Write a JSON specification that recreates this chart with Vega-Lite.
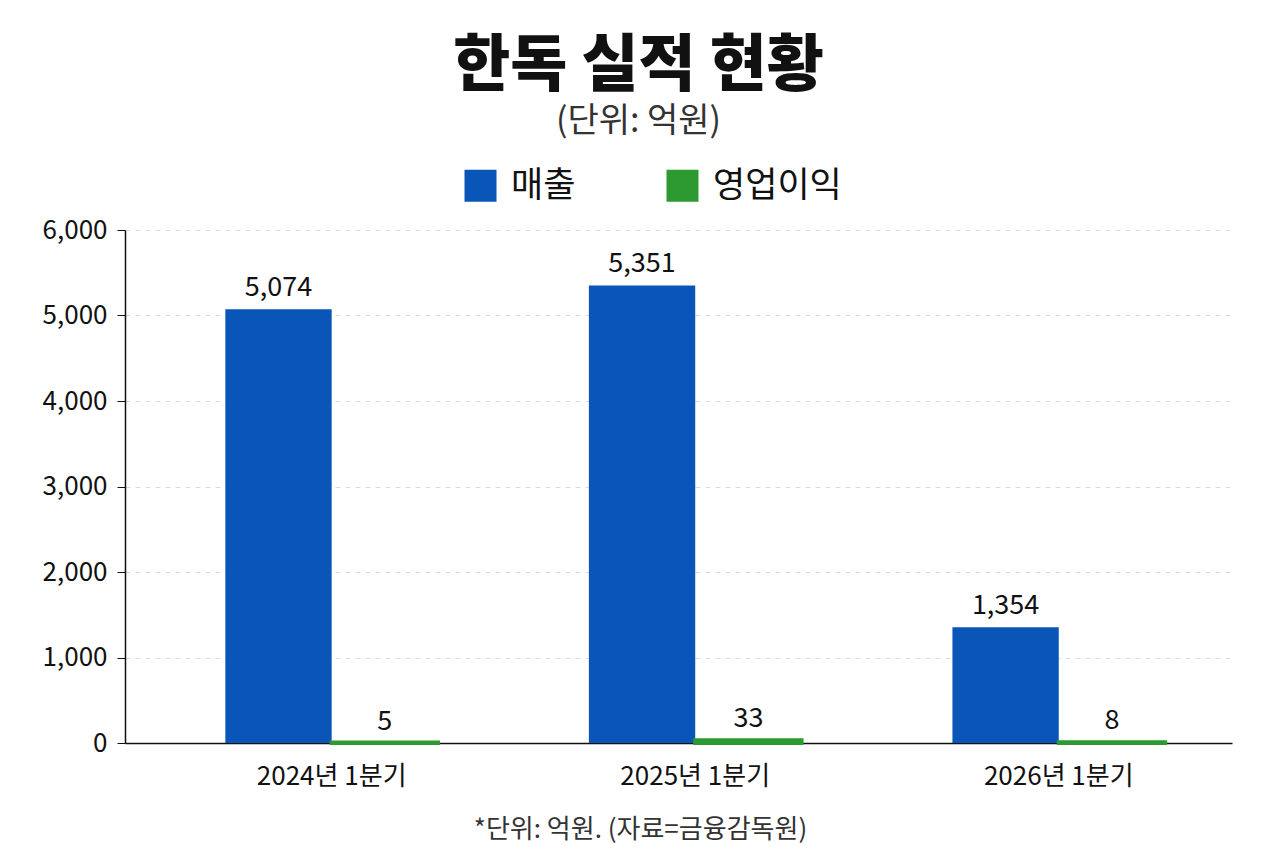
{
  "$schema": "https://vega.github.io/schema/vega-lite/v6.json",
  "width": 1107,
  "height": 513,
  "autosize": {"type": "none"},
  "padding": {"left": 125, "top": 230, "right": 48, "bottom": 110},
  "background": "white",
  "title": {
    "text": "한독 실적 현황",
    "subtitle": "(단위: 억원)",
    "anchor": "middle",
    "frame": "group",
    "dx": -40,
    "offset": 28,
    "font": "Noto Sans CJK KR",
    "fontSize": 62,
    "fontWeight": 900,
    "color": "#111111",
    "subtitleFont": "Noto Sans CJK KR",
    "subtitleFontSize": 34,
    "subtitleColor": "#333333",
    "subtitlePadding": 6
  },
  "data": {
    "values": [
      {"quarter": "2024년 1분기", "series": "매출", "value": 5074},
      {"quarter": "2024년 1분기", "series": "영업이익", "value": 5},
      {"quarter": "2025년 1분기", "series": "매출", "value": 5351},
      {"quarter": "2025년 1분기", "series": "영업이익", "value": 33},
      {"quarter": "2026년 1분기", "series": "매출", "value": 1354},
      {"quarter": "2026년 1분기", "series": "영업이익", "value": 8}
    ]
  },
  "encoding": {
    "x": {
      "field": "quarter",
      "type": "nominal",
      "sort": ["2024년 1분기", "2025년 1분기", "2026년 1분기"],
      "scale": {"paddingInner": 0.415, "paddingOuter": 0.23, "align": 0.6},
      "axis": {
        "title": "*단위: 억원. (자료=금융감독원)",
        "titleFont": "Noto Sans CJK KR",
        "titleFontSize": 26,
        "titleFontWeight": "normal",
        "titleColor": "#333333",
        "titleX": 515,
        "titleAlign": "center",
        "titlePadding": 27,
        "labelAngle": 0,
        "labelFont": "Noto Sans CJK KR",
        "labelFontSize": 26,
        "labelColor": "#111111",
        "labelPadding": 20,
        "ticks": false,
        "domainColor": "#111111",
        "domainWidth": 1.5
      }
    },
    "xOffset": {
      "field": "series",
      "type": "nominal",
      "sort": ["매출", "영업이익"],
      "scale": {"paddingInner": 0, "paddingOuter": 0}
    },
    "y": {
      "field": "value",
      "type": "quantitative",
      "scale": {"domain": [0, 6000], "nice": false},
      "axis": {
        "title": null,
        "values": [0, 1000, 2000, 3000, 4000, 5000, 6000],
        "format": ",.0f",
        "labelFont": "Noto Sans CJK KR",
        "labelFontSize": 26,
        "labelColor": "#111111",
        "labelPadding": 10,
        "tickSize": 8,
        "tickColor": "#111111",
        "domainColor": "#111111",
        "domainWidth": 1.5,
        "grid": true,
        "gridColor": "#dddddd",
        "gridDash": [5, 5],
        "gridWidth": 1
      }
    }
  },
  "layer": [
    {
      "mark": {"type": "bar"},
      "encoding": {
        "color": {
          "field": "series",
          "type": "nominal",
          "scale": {"domain": ["매출", "영업이익"], "range": ["#0a56b8", "#2c9a31"]},
          "legend": {
            "orient": "none",
            "legendX": 338,
            "legendY": -62,
            "direction": "horizontal",
            "title": null,
            "padding": 0,
            "symbolType": "square",
            "symbolSize": 1024,
            "symbolStrokeWidth": 0,
            "symbolOpacity": 1,
            "labelFont": "Noto Sans CJK KR",
            "labelFontSize": 35,
            "labelColor": "#111111",
            "labelOffset": 13,
            "columnPadding": 89
          }
        },
        "stroke": {
          "field": "series",
          "type": "nominal",
          "scale": {"domain": ["매출", "영업이익"], "range": ["#0a56b8", "#2c9a31"]},
          "legend": null
        },
        "strokeWidth": {
          "condition": {"test": "datum.series === '영업이익'", "value": 4},
          "value": 0
        }
      }
    },
    {
      "mark": {
        "type": "text",
        "baseline": "alphabetic",
        "dy": -13,
        "font": "Noto Sans CJK KR",
        "fontSize": 27,
        "color": "#111111"
      },
      "encoding": {
        "text": {"field": "value", "type": "quantitative", "format": ","}
      }
    }
  ],
  "config": {"view": {"stroke": null}}
}
